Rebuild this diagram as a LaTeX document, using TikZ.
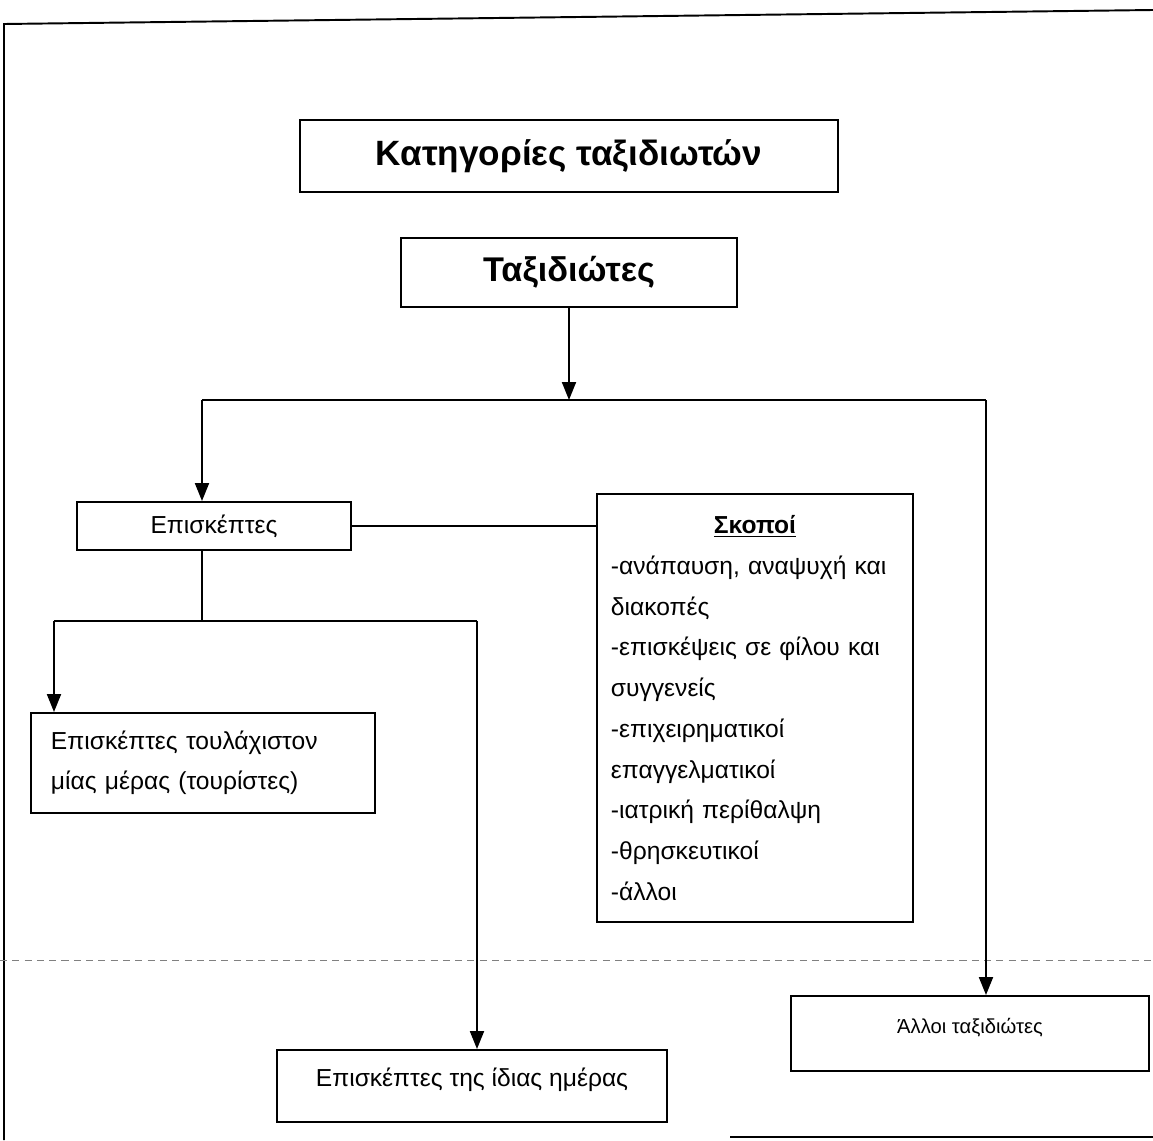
\documentclass[tikz,border=0pt]{standalone}
\usepackage{fontspec}
\setmainfont{Liberation Sans}
\usetikzlibrary{arrows.meta, positioning}

\begin{document}
\begin{tikzpicture}[node distance=2cm, on grid, line width=1.1pt,
        catbox/.style={draw, rectangle, inner sep=0pt, font=\fontsize{14}{22}\selectfont},
        flow/.style={-{Triangle[length=3.6mm,width=2.8mm]}}]
        \useasboundingbox (-113.8mm,31.2mm) rectangle (116.8mm,-196.8mm);

        % frame of the scanned page
        \draw (-113mm,-196.8mm) -- (-113mm,26.4mm) -- (116.8mm,29.2mm);
        \draw (32.2mm,-196.2mm) -- (116.8mm,-196.2mm);
        \draw[gray, line width=0.5pt, dash pattern=on 4pt off 3pt] (-113.8mm,-160.8mm) -- (116.8mm,-160.8mm);

        \node[catbox, minimum width=107.6mm, minimum height=14.4mm, font=\fontsize{20}{22}\selectfont\bfseries] (title) {Κατηγορίες ταξιδιωτών};
        \node[catbox, minimum width=67.2mm, minimum height=13.8mm, font=\fontsize{19.5}{22}\selectfont\bfseries] (trav) [below=23.3mm of title] {Ταξιδιώτες};
        \node[catbox, minimum width=54.8mm, minimum height=9.6mm] (visit) [below left=50.7mm and 71mm of trav] {Επισκέπτες};
        \node[catbox, minimum height=85.6mm, text width=57.6mm, inner xsep=2.8mm, align=left, font=\fontsize{14}{23.2}\selectfont] (purp) [below right=36.4mm and 108.2mm of visit]
            {\hfill\underline{\textbf{Σκοποί}}\hfill\null\\
             -ανάπαυση, αναψυχή και\\
             διακοπές\\
             -επισκέψεις σε φίλου και\\
             συγγενείς\\
             -επιχειρηματικοί\\
             επαγγελματικοί\\
             -ιατρική περίθαλψη\\
             -θρησκευτικοί\\
             -άλλοι};
        \node[catbox, minimum height=20mm, text width=60.8mm, inner xsep=4mm, align=left, font=\fontsize{14}{22.7}\selectfont] (tour) [below left=47.4mm and 2.2mm of visit]
            {Επισκέπτες τουλάχιστον\\ μίας μέρας (τουρίστες)};
        \node[catbox, minimum width=78mm, minimum height=14.4mm] (same) [below right=64.6mm and 53.8mm of tour] {\raisebox{3.6mm}{Επισκέπτες της ίδιας ημέρας}};
        \node[catbox, minimum width=71.6mm, minimum height=15mm, font=\fontsize{11.5}{22}\selectfont] (other) [below right=65.1mm and 43mm of purp] {\raisebox{3.2mm}{Άλλοι ταξιδιώτες}};

        \coordinate[below=25.5mm of trav] (split);
        \coordinate[left=73.4mm of split] (lsplit);
        \coordinate[right=83.4mm of split] (rsplit);
        \coordinate[below=44.2mm of lsplit] (vjoin);
        \coordinate[left=29.6mm of vjoin] (vleft);
        \coordinate[right=55mm of vjoin] (vright);

        \draw[flow] (trav) -- (split);
        \draw (lsplit) -- (rsplit);
        \draw[flow] (lsplit) -- (lsplit |- visit.north);
        \draw[flow] (rsplit) -- (rsplit |- other.north);
        \draw (visit.east) -- (visit.east -| purp.west);
        \draw (visit.south -| vjoin) -- (vjoin);
        \draw (vleft) -- (vright);
        \draw[flow] (vleft) -- (vleft |- tour.north);
        \draw[flow] (vright) -- (vright |- same.north);

    \end{tikzpicture}
\end{document}
